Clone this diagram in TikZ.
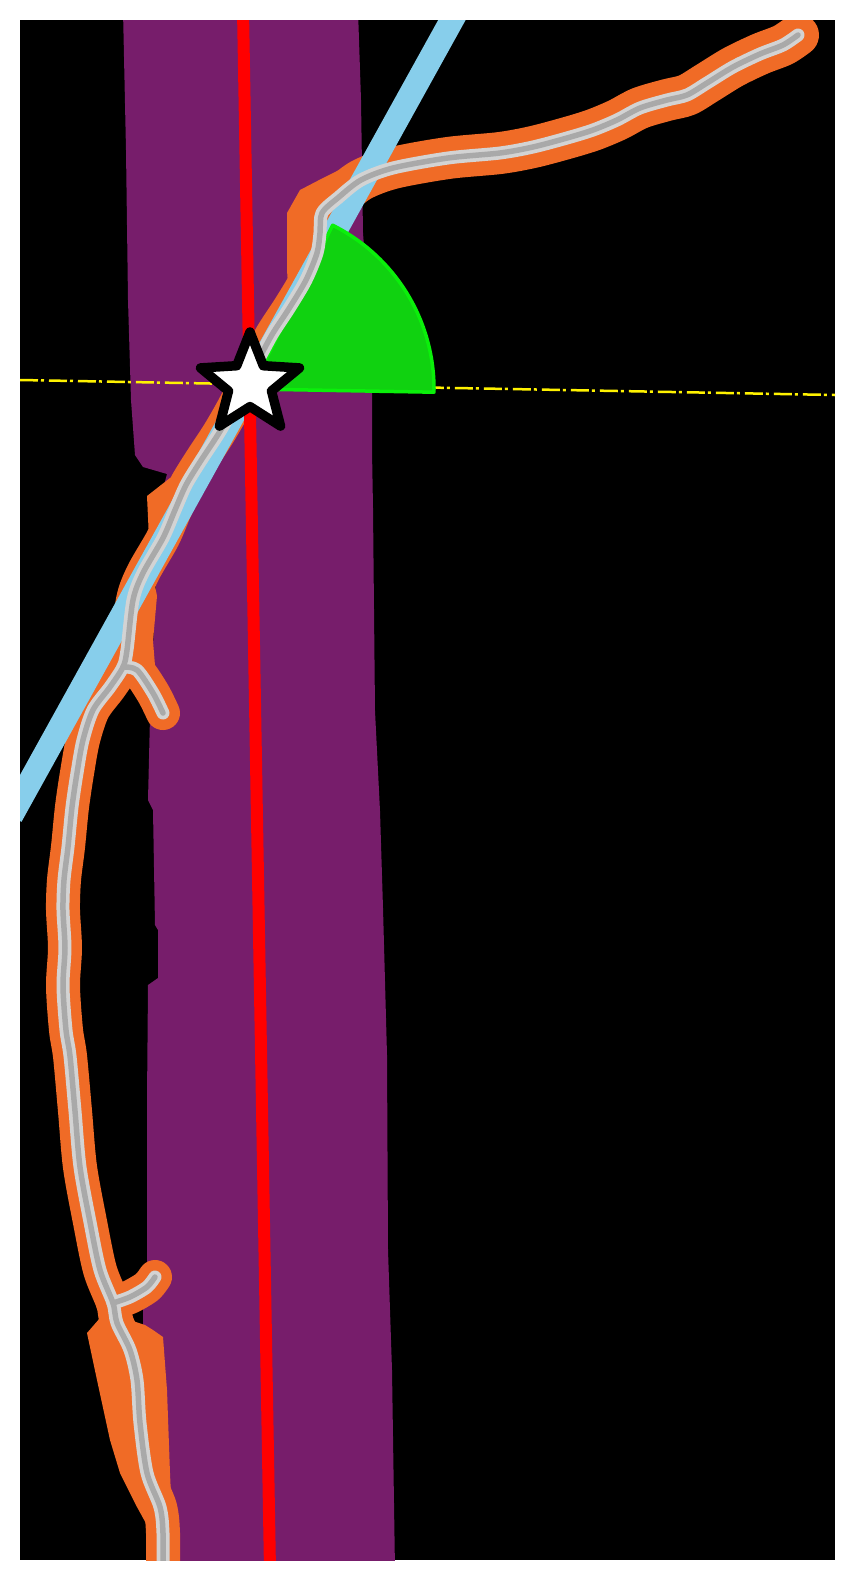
\documentclass[tikz,border=0pt]{standalone}
\usetikzlibrary{shapes.geometric}
\definecolor{tissue}{RGB}{119,29,107}
\definecolor{halo}{RGB}{240,107,38}
\definecolor{sky}{RGB}{135,206,235}
\definecolor{vesl}{RGB}{211,211,211}
\definecolor{vesldk}{RGB}{169,169,169}
\definecolor{wedgefill}{RGB}{16,210,16}
\definecolor{wedgeline}{RGB}{10,240,10}
\tikzset{
  halostroke/.style={draw=halo, line width=#1, line cap=round, line join=round},
  halostroke/.default=34pt,
  vessel/.style={draw=vesl, line width=13pt, line cap=round, line join=round},
  core/.style={draw=vesldk, line width=5.5pt, line cap=round, line join=round},
  midline/.style={draw=red, line width=12pt},
  guide/.style={draw=sky, line width=24pt},
  refline/.style={draw=yellow, line width=2.5pt, dash pattern=on 18pt off 3pt on 3pt off 5pt},
  wedge/.style={fill=wedgefill, draw=wedgeline, line width=3.5pt, line join=round},
  hit/.style={star, star points=5, star point ratio=2.3, minimum size=104pt, inner sep=0pt,
    fill=white, draw=black, line width=9.5pt, line join=round},
}
% centre line of the vessel and its two side branches
\def\trunk{plot[smooth, tension=0.5] coordinates {(798,35) (783,45) (760,54) (733,67) (707,83)
  (687,95) (667,100) (640,108) (617,120) (593,130) (567,138) (533,147) (500,153) (448,158)
  (393,168) (361,180) (339,197) (322,213) (320,233) (317,253) (306,280) (290,307) (273,333)
  (262,353) (251,373) (235,405) (219,433) (200,462) (186,485) (175,510) (163,538) (143,573)
  (133,600) (127,650) (123,667) (110,687) (93,710) (83,740) (77,773) (72,807) (68,847)
  (64,880) (63,910) (65,948) (63,986) (66,1030) (70,1056) (75,1111) (80,1167) (90,1222)
  (100,1270) (113,1303) (117,1323) (130,1350) (137,1380) (140,1423) (147,1473) (160,1507)
  (163,1533) (163,1575)}}
\def\crown{plot[smooth, tension=0.5] coordinates {(798,35) (783,45) (760,54) (733,67) (707,83)
  (687,95) (667,100) (640,108) (617,120) (593,130) (567,138) (533,147) (500,153) (448,158)
  (393,168) (361,180) (339,197)}}
\def\twigA{plot[smooth, tension=0.5] coordinates {(123,667) (137,670) (153,693) (163,713)}}
\def\twigB{plot[smooth, tension=0.5] coordinates {(113,1303) (130,1297) (147,1287) (155,1277)}}

\begin{document}
\begin{tikzpicture}[x=1pt,y=-1pt]
  \useasboundingbox (0,0) rectangle (854,1580);
  \fill[black] (20,20) rectangle (835,1560);
  \clip (20,20) rectangle (835,1560);

  % tissue band
  \fill[tissue] (123,10) -- (126,150) -- (128,300) -- (131,400) -- (135,455) -- (143,467)
    -- (167,474) -- (160,500) -- (155,600) -- (150,717) -- (148,800) -- (153,810)
    -- (155,925) -- (158,930) -- (158,978) -- (148,985) -- (147,1100) -- (147,1300)
    -- (143,1307) -- (143,1325) -- (148,1330) -- (148,1570) -- (395,1570) -- (392,1370)
    -- (388,1250) -- (387,1055) -- (383,908) -- (380,811) -- (375,711) -- (373,508)
    -- (372,450) -- (372,387) -- (365,260) -- (363,233) -- (361,100) -- (358,10) -- cycle;

  % orange margin round the vessel
  \draw[halostroke] \trunk;
  \draw[halostroke=42pt] \crown;
  \draw[halostroke] \twigA;
  \draw[halostroke] \twigB;
  \fill[halo] (365,157) -- (323,178) -- (300,190) -- (287,213) -- (287,270) -- (289,300)
    -- (270,317) -- (258,340) -- (250,372) -- (300,270) -- (330,215) -- cycle;
  \fill[halo] (205,462) -- (170,478) -- (147,496) -- (150,560) -- (157,596) -- (153,641)
    -- (157,690) -- (140,690) -- (123,667) -- (133,600) -- (163,538) -- (186,485) -- cycle;
  \fill[halo] (113,1303) -- (87,1333) -- (97,1380) -- (110,1440) -- (120,1473) -- (137,1507)
    -- (148,1527) -- (150,1570) -- (172,1570) -- (173,1540) -- (170,1473) -- (167,1390)
    -- (163,1337) -- (153,1330) -- (145,1325) -- (130,1320) -- cycle;

  % fitted direction and reference line
  \coordinate (gtop) at (463,0);
  \coordinate (gbot) at (11,816);
  \draw[guide] (gtop) -- (gbot);
  \coordinate (rleft) at (20,380);
  \coordinate (rright) at (835,395);
  \draw[refline] (rleft) -- (rright);

  % angle between them
  \coordinate (apex) at (251,389);
  \draw[wedge] (apex) -- ++(1:183) arc[start angle=1, end angle=-63.5, radius=183] -- cycle;

  % vessel
  \foreach \s in {vessel,core} {
    \draw[\s] \trunk;
    \draw[\s] \twigA;
    \draw[\s] \twigB;
  }

  % midline
  \coordinate (mtop) at (243,10);
  \coordinate (mbot) at (270,1570);
  \draw[midline] (mtop) -- (mbot);

  \node[hit] (cross) at (250,384) {};
\end{tikzpicture}
\end{document}
